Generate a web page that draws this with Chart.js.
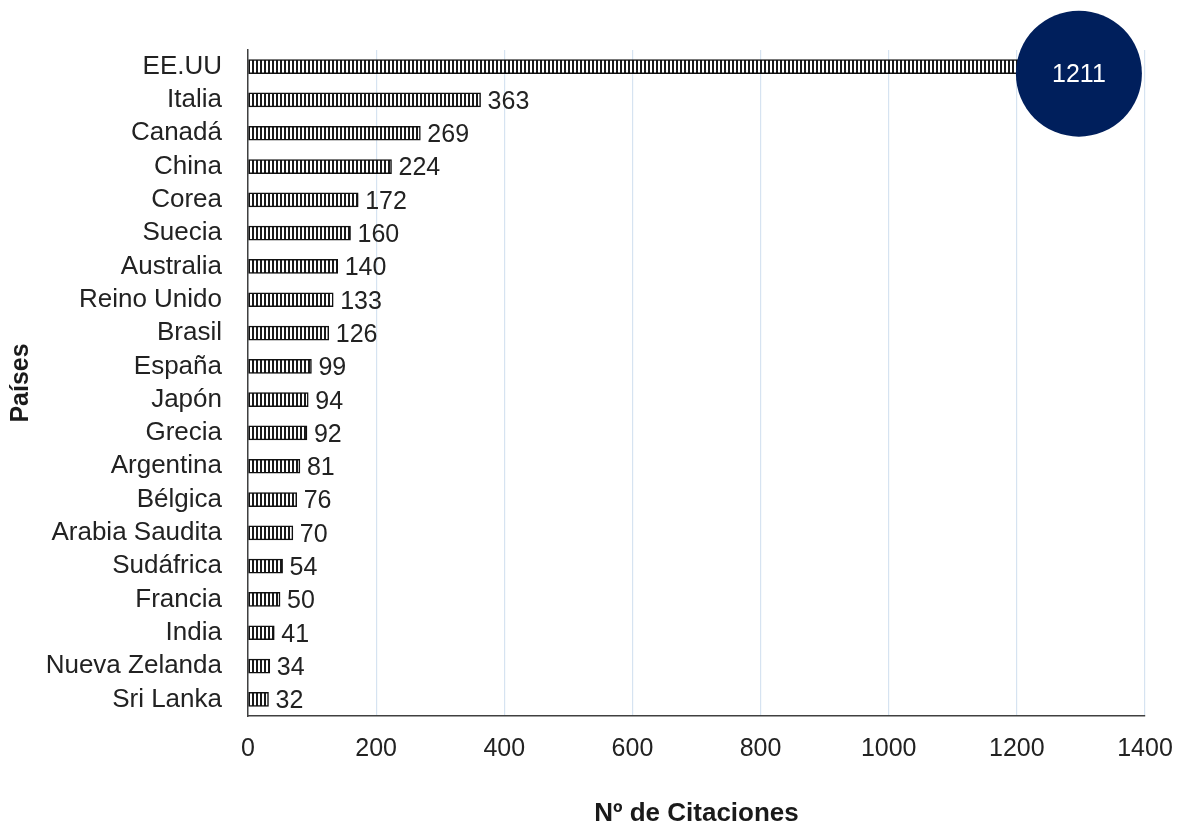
<!DOCTYPE html>
<html>
<head>
<meta charset="utf-8">
<script src="https://cdn.jsdelivr.net/npm/chart.js@4.4.1/dist/chart.umd.min.js"></script>
<style>
  html, body { margin: 0; padding: 0; background: #fff; }
  #wrap { width: 1179px; height: 827px; }
</style>
</head>
<body>
<div id="wrap"><canvas id="chart"></canvas></div>
<script>
// data
var paises = ['EE.UU', 'Italia', 'Canadá', 'China', 'Corea', 'Suecia', 'Australia', 'Reino Unido',
              'Brasil', 'España', 'Japón', 'Grecia', 'Argentina', 'Bélgica', 'Arabia Saudita',
              'Sudáfrica', 'Francia', 'India', 'Nueva Zelanda', 'Sri Lanka'];
var citaciones = [1211, 363, 269, 224, 172, 160, 140, 133, 126, 99, 94, 92, 81, 76, 70, 54, 50, 41, 34, 32];
var xTicks = [0, 200, 400, 600, 800, 1000, 1200, 1400];

var fontName = "'Liberation Sans', Arial, sans-serif";
var textColor = '#222222';

// vertical stripes like the original bars
function stripes() {
    var c = document.createElement('canvas');
    c.width = 4; c.height = 4;
    var g = c.getContext('2d');
    g.fillStyle = '#ffffff';
    g.fillRect(0, 0, 4, 4);
    g.fillStyle = '#1a1a1a';
    g.fillRect(0, 0, 2, 4);
    return g.createPattern(c, 'repeat');
}

var labelsPlugin = {
    id: 'valueLabels',
    afterDatasetsDraw: function(chart) {
        var ctx = chart.ctx;
        var meta = chart.getDatasetMeta(0);
        ctx.save();
        ctx.font = '25px ' + fontName;
        ctx.fillStyle = textColor;
        ctx.textBaseline = 'middle';
        ctx.textAlign = 'left';
        for (var i = 1; i < meta.data.length; i++) {
            var bar = meta.data[i];
            ctx.fillText(String(citaciones[i]), bar.x + 7, bar.y + 2);
        }
        // big circle for the first country
        var top = meta.data[0];
        var r = 63;
        var cx = top.x + r - 8;
        var cy = top.y + 7;
        ctx.beginPath();
        ctx.arc(cx, cy, r, 0, Math.PI * 2);
        ctx.fillStyle = '#001f5c';
        ctx.fill();
        ctx.fillStyle = '#ffffff';
        ctx.textAlign = 'center';
        ctx.font = '25px ' + fontName;
        ctx.fillText(String(citaciones[0]), cx, cy + 1);
        ctx.restore();
    }
};

var chart = new Chart(document.getElementById('chart'), {
    type: 'bar',
    data: {
        labels: paises,
        datasets: [{
            data: citaciones,
            backgroundColor: stripes(),
            borderColor: '#111111',
            borderWidth: 1.5,
            borderSkipped: false,
            barThickness: 14
        }]
    },
    options: {
        indexAxis: 'y',
        responsive: true,
        maintainAspectRatio: false,
        animation: false,
        layout: { padding: { top: 50, right: 34, left: 0, bottom: 0 } },
        plugins: {
            legend: { display: false },
            tooltip: { enabled: false }
        },
        scales: {
            x: {
                min: 0,
                max: 1400,
                afterBuildTicks: function(scale) {
                    scale.ticks = xTicks.map(function(v) { return { value: v }; });
                },
                afterFit: function(scale) {
                    scale.height = 111;
                    scale.paddingLeft = 0;
                    scale.paddingRight = 0;
                },
                grid: { color: '#d6e3f1', lineWidth: 1.2, drawTicks: false },
                border: { color: '#404040', width: 1.5 },
                ticks: {
                    color: textColor,
                    font: { family: fontName, size: 25 },
                    padding: 18,
                    callback: function(v) { return String(v); }
                },
                title: {
                    display: true,
                    text: 'Nº de Citaciones',
                    color: '#1a1a1a',
                    font: { family: fontName, size: 26, weight: 'bold', lineHeight: 1 },
                    padding: { top: 0, bottom: 0 }
                }
            },
            y: {
                afterFit: function(scale) { scale.width = 248; },
                grid: { display: false, drawTicks: false },
                border: { color: '#404040', width: 1.5 },
                ticks: { color: textColor, font: { family: fontName, size: 26 }, padding: 26, autoSkip: false },
                title: {
                    display: true,
                    text: 'Países',
                    color: '#1a1a1a',
                    font: { family: fontName, size: 25, weight: 'bold', lineHeight: 1 },
                    padding: { top: 9, bottom: 0 }
                }
            }
        }
    },
    plugins: [labelsPlugin]
});
</script>
</body>
</html>
